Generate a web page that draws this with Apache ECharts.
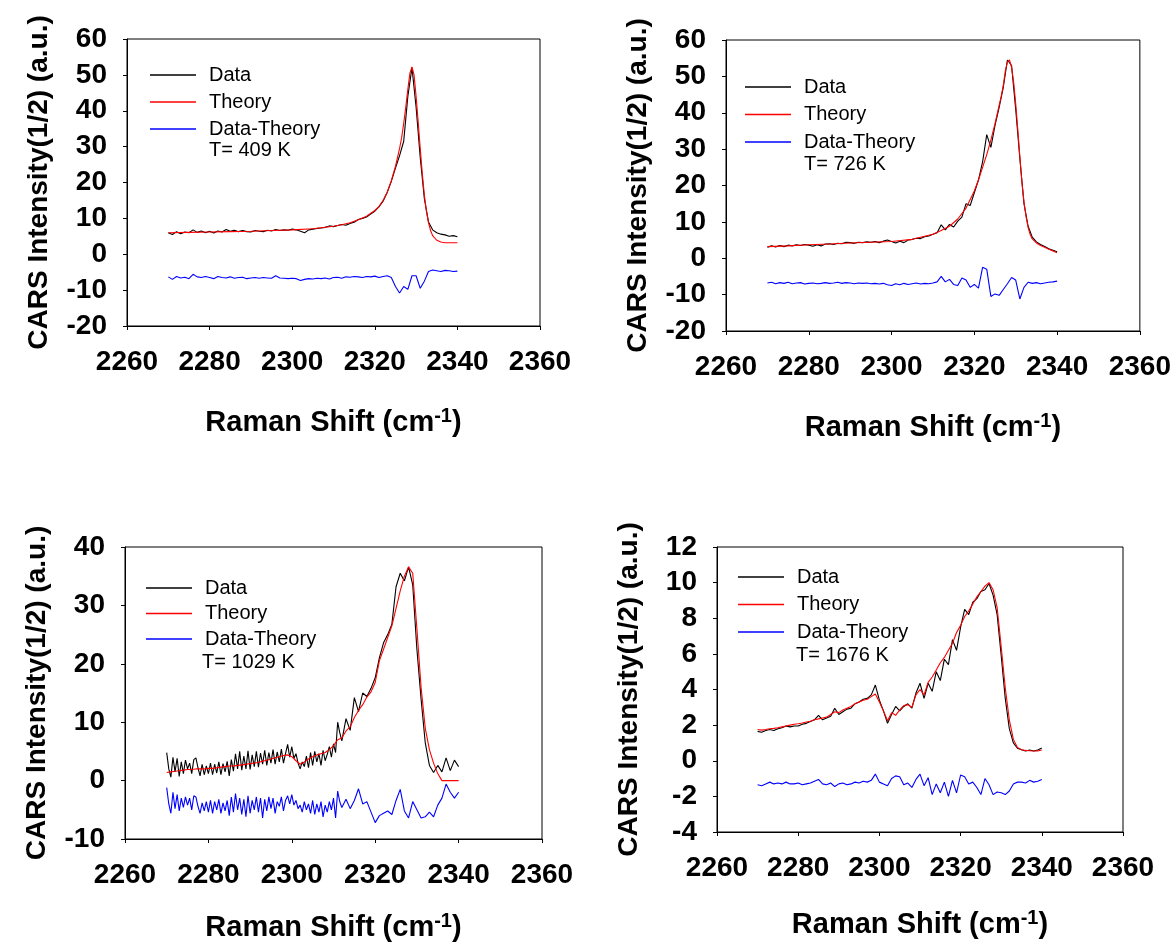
<!DOCTYPE html>
<html>
<head>
<meta charset="utf-8">
<script src="https://cdn.jsdelivr.net/npm/echarts@6/dist/echarts.min.js"></script>
<style>html,body{margin:0;padding:0;background:#fff}#c{width:1174px;height:946px}</style>
</head>
<body>
<div id="c"></div>
<script>
// ---------- DATA ----------
const X = [2270,2271,2272,2273,2274,2275,2276,2277,2278,2279,2280,2281,2282,2283,2284,2285,2286,2287,2288,2289,2290,2291,2292,2293,2294,2295,2296,2297,2298,2299,2300,2301,2302,2303,2304,2305,2306,2307,2308,2309,2310,2311,2312,2313,2314,2315,2316,2317,2318,2319,2320,2321,2322,2323,2324,2325,2326,2327,2328,2329,2330,2331,2332,2333,2334,2335,2336,2337,2338,2339,2340];
const TX = [2270,2275,2280,2285,2290,2295,2300,2305,2310,2312,2314,2316,2318,2320,2321,2322,2323,2324,2325,2326,2326.5,2327,2327.5,2328,2328.5,2329,2329.5,2330,2330.5,2331,2331.5,2332,2332.5,2333,2333.5,2334,2335,2336,2337,2338,2340];
const X3 = [2270,2270.5,2271,2271.5,2272,2272.5,2273,2273.5,2274,2274.5,2275,2275.5,2276,2276.5,2277,2277.5,2278,2278.5,2279,2279.5,
  2280,2280.5,2281,2281.5,2282,2282.5,2283,2283.5,2284,2284.5,2285,2285.5,2286,2286.5,2287,2287.5,2288,2288.5,2289,2289.5,
  2290,2290.5,2291,2291.5,2292,2292.5,2293,2293.5,2294,2294.5,2295,2295.5,2296,2296.5,2297,2297.5,2298,2298.5,2299,2299.5,
  2300,2300.5,2301,2301.5,2302,2302.5,2303,2303.5,2304,2304.5,2305,2305.5,2306,2306.5,2307,2307.5,2308,2308.5,2309,2309.5,
  2310,2310.5,2311,2311.5,2312,
  2313,2314,2315,2316,2317,2318,2319,2320,2321,2322,2323,2324,2325,2326,2327,2328,2329,2330,2331,2332,2333,2334,2335,2336,2337,2338,2339,2340];

const seriesNames = ["Data", "Theory", "Data-Theory"];
const temperatures = ["T= 409 K", "T= 726 K", "T= 1029 K", "T= 1676 K"];
const xTickValues = [2260, 2360, 20];
const yRanges = [[-20, 60, 10], [-20, 60, 10], [-10, 40, 10], [-4, 12, 2]];
const xTitle = "Raman Shift (cm{sup|-1})";
const yTitle = "CARS Intensity(1/2) (a.u.)";

// Panel 1 (409 K)
const p1Data = [6.0,5.5,6.3,5.7,6.2,6.0,6.8,6.1,6.5,6.0,6.4,5.9,6.5,6.2,6.9,6.4,6.7,6.3,6.6,6.3,6.2,6.6,6.4,6.3,6.7,6.5,6.9,6.6,6.8,6.7,7.0,6.8,6.4,6.0,6.8,7.0,7.2,7.3,7.5,7.9,7.7,8.0,8.3,8.1,8.6,8.9,9.7,10.0,10.4,11.2,12.0,13.2,14.8,17.2,20.3,24.0,27.5,31.5,44.0,52.0,41.0,27.0,15.5,9.0,6.8,6.0,5.6,5.4,5.0,5.2,4.9];
const p1Theory = [6.0,6.1,6.2,6.3,6.4,6.6,6.8,7.1,7.8,8.2,8.8,9.6,10.6,12.2,13.3,15.0,17.3,20.5,24.5,29.5,32.5,36.5,41,46,50.5,52.2,50,44,37,29.5,22.5,16.5,12,8.8,6.6,5.2,3.9,3.4,3.2,3.2,3.2];
const p1Diff = [-6.3,-7.0,-6.2,-6.6,-6.4,-6.8,-5.6,-6.3,-6.5,-6.2,-6.5,-6.8,-6.2,-6.5,-6.6,-6.3,-6.7,-6.5,-6.4,-6.8,-6.6,-6.5,-6.7,-6.5,-6.6,-6.7,-6.0,-6.6,-6.7,-6.8,-6.7,-6.8,-7.3,-7.0,-6.8,-6.9,-6.7,-6.8,-6.6,-6.9,-6.5,-6.4,-6.7,-6.3,-6.4,-6.2,-6.3,-6.5,-6.2,-6.3,-6.1,-6.5,-6.2,-6.0,-6.5,-9.0,-10.8,-9.0,-9.8,-6.0,-6.0,-9.5,-7.5,-4.8,-4.4,-4.6,-4.8,-4.5,-4.6,-4.8,-4.7];

// Panel 2 (726 K)
const p2Data = [3.0,3.4,3.1,3.5,3.2,3.6,3.4,3.7,3.5,3.8,3.6,3.3,3.7,3.4,3.9,4.0,3.8,4.1,4.0,4.4,4.3,4.1,4.4,4.3,4.5,4.4,4.6,4.3,4.7,5.0,4.6,4.2,4.7,4.3,5.0,5.2,5.5,5.4,5.9,6.1,6.6,7.0,9.2,7.8,9.3,8.6,10.2,11.3,15.0,14.5,18.0,21.5,26.5,34.0,30.5,36.5,41.5,47.0,54.5,53.0,41.0,27.5,15.0,8.8,5.8,4.5,3.8,3.2,2.6,2.2,1.8];
const p2Theory = [3.2,3.4,3.7,3.9,4.2,4.4,4.6,5.2,6.6,7.6,8.8,10.8,13.8,18.5,21.5,25.0,28.5,32.5,37.0,42.0,44.5,47.5,51.5,54.0,54.5,52.5,48.5,42.5,35.5,28.0,21.0,15.5,11.5,8.5,6.5,5.3,4.2,3.5,3.0,2.5,1.5];
const p2Diff = [-6.8,-6.6,-7.0,-6.7,-6.9,-6.6,-7.0,-6.8,-6.7,-7.1,-6.9,-6.8,-7.0,-6.9,-6.7,-6.9,-6.8,-6.6,-6.9,-6.7,-6.8,-7.0,-6.8,-6.9,-6.8,-7.0,-6.9,-7.1,-6.9,-7.3,-7.5,-7.0,-7.3,-6.9,-7.2,-7.0,-6.8,-7.1,-6.9,-7.0,-6.8,-6.5,-5.0,-6.5,-5.8,-7.2,-7.5,-5.4,-6.0,-8.0,-7.2,-8.2,-2.5,-3.0,-10.5,-9.8,-10.2,-8.6,-7.0,-5.3,-6.0,-11.2,-8.0,-6.6,-6.9,-6.7,-7.0,-6.8,-6.6,-6.5,-6.3];

// Panel 3 (1029 K) — data and residual on X3, theory on X
const p3Data = [4.8,2.0,0.6,4.0,1.5,3.8,0.7,3.2,1.2,3.5,2.0,3.0,1.2,3.6,3.9,2.2,0.8,2.8,1.0,2.5,
  1.2,3.0,1.0,2.8,1.3,3.2,1.0,2.9,1.5,3.3,0.8,3.6,1.6,4.6,2.0,5.0,1.8,4.2,2.0,5.1,
  1.9,4.4,2.4,5.0,2.3,4.7,2.8,5.2,2.6,4.8,3.0,5.3,2.8,4.9,3.2,5.4,3.0,4.6,6.2,4.0,
  5.8,3.8,4.6,3.0,2.0,3.2,2.4,4.2,2.2,4.8,2.6,5.0,3.2,4.6,2.6,5.2,3.4,4.5,5.8,4.0,
  6.3,4.8,10.0,8.2,6.8,
  10.6,8.6,14.2,11.8,15.0,14.4,15.8,17.6,21.0,23.6,25.0,26.8,33.2,35.5,34.2,36.6,33.5,22.5,14.0,6.5,2.6,1.4,2.6,1.5,3.9,1.7,3.5,2.4];
const p3Theory = [1.4,1.5,1.6,1.7,1.8,1.9,1.9,2.0,2.0,2.0,2.1,2.1,2.2,2.3,2.4,2.5,2.5,2.6,2.7,2.8,2.9,3.0,3.1,3.3,3.5,3.7,3.9,4.1,4.3,4.4,4.1,3.4,2.8,3.2,3.7,4.1,4.4,4.6,4.8,5.3,6.0,7.0,7.3,8.5,9.2,10.8,12.0,13.0,14.3,15.2,16.8,20.5,22.5,24.5,26.5,29.5,32.5,35.0,36.6,35.5,26.0,16.0,9.0,5.3,3.0,1.2,0.0,0.0,0.0,0.0,0.0];
const p3Diff = [-1.2,-4.0,-5.6,-2.0,-4.8,-2.4,-5.2,-3.0,-4.6,-2.8,-4.2,-3.0,-5.0,-2.6,-2.8,-4.4,-5.6,-3.8,-5.2,-3.6,
  -5.4,-3.4,-5.6,-3.6,-5.0,-3.2,-5.6,-3.8,-5.2,-3.4,-6.0,-2.8,-5.4,-2.2,-5.0,-3.0,-5.8,-3.2,-6.2,-2.6,
  -5.6,-3.4,-5.0,-2.8,-5.4,-3.0,-6.4,-3.2,-5.2,-2.8,-4.8,-3.0,-5.6,-3.6,-4.4,-2.8,-5.2,-3.4,-2.6,-4.0,
  -2.4,-4.2,-3.4,-4.8,-4.2,-5.4,-3.6,-5.0,-4.0,-5.6,-3.4,-5.8,-4.0,-5.4,-3.6,-6.2,-4.2,-5.4,-3.6,-5.0,
  -3.0,-6.4,-1.8,-3.6,-4.6,
  -3.2,-4.8,-3.4,-1.4,-4.0,-3.6,-5.4,-7.2,-6.0,-5.6,-5.2,-5.8,-3.4,-1.5,-5.2,-6.4,-3.6,-5.0,-6.4,-6.2,-5.4,-6.2,-4.2,-3.0,-0.6,-2.0,-3.0,-2.0];

// Panel 4 (1676 K)
const p4Data = [1.65,1.6,1.7,1.75,1.7,1.8,1.85,1.95,1.9,1.95,1.95,2.05,2.1,2.2,2.3,2.55,2.3,2.4,2.5,2.95,2.6,2.75,2.9,2.95,3.2,3.3,3.45,3.5,3.7,4.25,3.4,2.8,2.1,2.6,3.05,2.8,3.05,3.2,2.95,3.8,4.35,3.5,4.35,3.9,5.0,4.5,5.7,5.4,6.8,6.2,7.5,8.5,8.2,8.9,9.1,9.5,9.6,9.95,9.3,8.2,5.9,3.5,1.8,1.0,0.7,0.62,0.55,0.6,0.55,0.6,0.72];
const p4Theory = [1.75,1.72,1.75,1.8,1.82,1.85,1.9,1.95,2.0,2.05,2.08,2.12,2.18,2.22,2.3,2.35,2.4,2.45,2.6,2.75,2.7,2.85,2.95,3.05,3.2,3.3,3.4,3.45,3.6,3.75,3.3,2.8,2.25,2.7,2.55,2.85,3.1,3.15,3.0,3.7,4.0,3.7,4.4,4.7,5.1,5.5,5.8,6.2,6.6,7.2,7.6,8.1,8.4,8.8,9.2,9.5,9.8,10.0,9.6,8.6,6.4,4.1,2.3,1.2,0.75,0.62,0.58,0.56,0.55,0.55,0.6];
const p4Diff = [-1.35,-1.4,-1.3,-1.2,-1.3,-1.25,-1.3,-1.2,-1.3,-1.3,-1.25,-1.35,-1.3,-1.25,-1.15,-1.05,-1.3,-1.35,-1.25,-1.45,-1.3,-1.25,-1.35,-1.3,-1.2,-1.25,-1.15,-1.2,-1.1,-0.75,-1.2,-1.3,-1.4,-1.0,-0.85,-0.9,-1.35,-1.25,-1.5,-1.05,-0.75,-1.4,-0.95,-1.9,-1.3,-1.8,-1.2,-2.0,-1.1,-1.8,-0.8,-0.9,-1.3,-1.2,-1.5,-1.9,-1.0,-1.35,-1.9,-1.75,-1.8,-1.9,-1.7,-1.3,-1.2,-1.2,-1.25,-1.1,-1.2,-1.15,-1.05];

// ---------- LAYOUT ----------
const FONT = "'Liberation Sans', Arial, sans-serif";
const grids = [
  {left:127, top:39, width:413, height:287},
  {left:726, top:40, width:414, height:291},
  {left:125, top:547, width:417, height:292},
  {left:717, top:547, width:406, height:285}
];
const legendPos = [
  {left:150, top:65, gap:7, tx:209, ty:151},
  {left:745, top:77, gap:7.5, tx:804, ty:165},
  {left:146, top:578, gap:5.5, tx:202, ty:663},
  {left:738, top:567, gap:7.5, tx:796, ty:656}
];
const xNameGap = [80, 80, 72, 76];
const panelSeries = [
  [X, p1Data, TX, p1Theory, X, p1Diff],
  [X, p2Data, TX, p2Theory, X, p2Diff],
  [X3, p3Data, X, p3Theory, X3, p3Diff],
  [X, p4Data, X, p4Theory, X, p4Diff]
];
const colors = ['#000000', '#ff0000', '#0000ff'];

function pairs(xs, ys) { return xs.map((x, i) => [x, ys[i]]); }

const option = {
  backgroundColor: '#ffffff',
  animation: false,
  grid: grids.map(g => Object.assign({show:true, borderColor:'#000', borderWidth:1, backgroundColor:'transparent'}, g)),
  xAxis: grids.map((g, i) => ({
    type: 'value', gridIndex: i,
    min: xTickValues[0], max: xTickValues[1], interval: xTickValues[2],
    name: xTitle, nameLocation: 'middle', nameGap: xNameGap[i],
    nameTextStyle: {fontSize: 29, fontWeight: 'bold', color: '#000', fontFamily: FONT,
      rich: {sup: {fontSize: 20, fontWeight: 'bold', color: '#000', fontFamily: FONT, verticalAlign: 'top', padding: [0,0,14,0]}}},
    axisLine: {show: true, onZero: false, lineStyle: {color: '#000', width: 1}},
    axisTick: {show: true, inside: false, length: 4, lineStyle: {color: '#000'}},
    axisLabel: {fontSize: 28, fontWeight: 'bold', color: '#000', fontFamily: FONT, margin: 22,
      formatter: v => String(v)},
    splitLine: {show: false}
  })),
  yAxis: grids.map((g, i) => ({
    type: 'value', gridIndex: i,
    min: yRanges[i][0], max: yRanges[i][1], interval: yRanges[i][2],
    name: yTitle, nameLocation: 'middle', nameGap: 74, nameRotate: 90,
    nameTextStyle: {fontSize: 28, fontWeight: 'bold', color: '#000', fontFamily: FONT},
    axisLine: {show: true, onZero: false, lineStyle: {color: '#000', width: 1}},
    axisTick: {show: true, inside: false, length: 4, lineStyle: {color: '#000'}},
    axisLabel: {fontSize: 28, fontWeight: 'bold', color: '#000', fontFamily: FONT, margin: 20,
      formatter: v => String(v)},
    splitLine: {show: false}
  })),
  legend: legendPos.map((p, i) => ({
    orient: 'vertical', left: p.left, top: p.top, itemGap: p.gap,
    itemWidth: 46, itemHeight: 1.5, icon: 'rect', padding: 0,
    data: seriesNames,
    textStyle: {fontSize: 20, color: '#000', fontFamily: FONT, lineHeight: 20, padding: [0,0,0,8]},
    selectedMode: false
  })),
  title: legendPos.map((p, i) => ({
    text: temperatures[i], left: p.tx, top: p.ty - 11, padding: 0,
    textStyle: {fontSize: 20, fontWeight: 'normal', color: '#000', fontFamily: FONT}
  })),
  series: []
};

panelSeries.forEach((ps, i) => {
  for (let k = 0; k < 3; k++) {
    option.series.push({
      type: 'line', name: seriesNames[k], xAxisIndex: i, yAxisIndex: i,
      data: pairs(ps[2*k], ps[2*k+1]),
      showSymbol: false, symbol: 'none',
      lineStyle: {color: colors[k], width: 1.1}, itemStyle: {color: colors[k]},
      z: k === 1 ? 3 : 2
    });
  }
});

const chart = echarts.init(document.getElementById('c'), null, {renderer: 'canvas'});
chart.setOption(option);
</script>
</body>
</html>
